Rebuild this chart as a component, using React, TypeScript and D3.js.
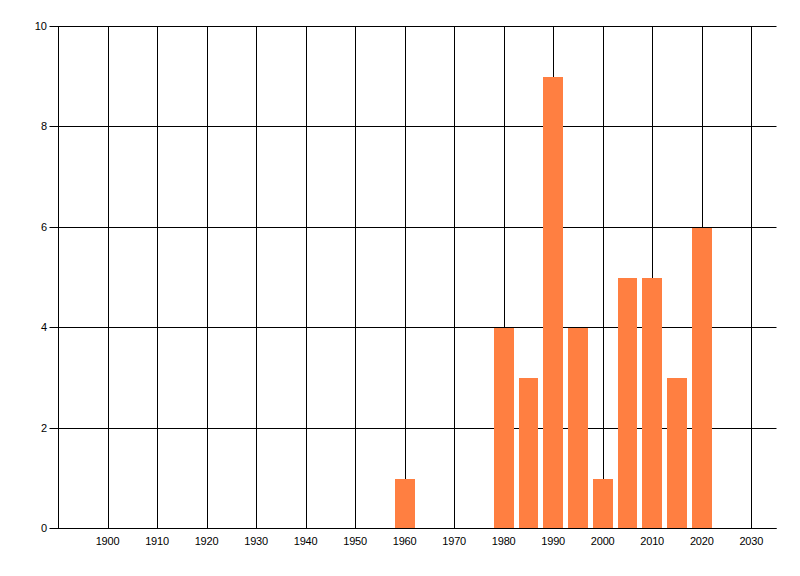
import { useEffect, useRef } from "react";
import * as d3 from "d3";

const years = [1960, 1980, 1985, 1990, 1995, 2000, 2005, 2010, 2015, 2020];
const counts = [1, 4, 3, 9, 4, 1, 5, 5, 3, 6];
const xTicks = [1900, 1910, 1920, 1930, 1940, 1950, 1960, 1970, 1980, 1990, 2000, 2010, 2020, 2030];
const yTicks = [0, 2, 4, 6, 8, 10];

export default function App() {
  const ref = useRef<SVGSVGElement>(null);

  useEffect(() => {
    if (!ref.current) return;
    const W = 800, H = 576;
    const ML = 58, MR = 24, MT = 26, MB = 48;
    const svg = d3.select(ref.current).attr("width", W).attr("height", H);
    svg.selectAll("*").remove();

    const x = d3.scaleLinear().domain([1890, 2035]).range([ML, W - MR]);
    const y = d3.scaleLinear().domain([0, 10]).range([H - MB, MT]);
    const px = (v: number) => Math.round(v) + 0.5;
    const font = "'Liberation Sans', Arial, sans-serif";

    // Grid
    const grid = svg.append("g").attr("stroke", "#000").attr("stroke-width", 1);
    xTicks.forEach(t => {
      grid.append("line")
        .attr("x1", px(x(t))).attr("x2", px(x(t)))
        .attr("y1", px(y(10))).attr("y2", px(y(0)));
    });
    yTicks.forEach(t => {
      grid.append("line")
        .attr("x1", px(x(1890)) - 9).attr("x2", px(x(2035)))
        .attr("y1", px(y(t))).attr("y2", px(y(t)));
    });

    // Bars
    svg.append("g").selectAll("rect")
      .data(years)
      .join("rect")
      .attr("x", d => Math.round(x(d - 2)))
      .attr("width", d => Math.round(x(d + 2)) - Math.round(x(d - 2)))
      .attr("y", (_, i) => Math.round(y(counts[i])) + 1)
      .attr("height", (_, i) => Math.round(y(0)) - Math.round(y(counts[i])))
      .attr("fill", "#ff7f41");

    // Axes
    svg.append("line")
      .attr("x1", px(x(1890))).attr("x2", px(x(1890)))
      .attr("y1", px(y(10))).attr("y2", px(y(0)))
      .attr("stroke", "#000");
    svg.append("line")
      .attr("x1", px(x(1890))).attr("x2", px(x(2035)))
      .attr("y1", px(y(0))).attr("y2", px(y(0)))
      .attr("stroke", "#000");

    // Labels
    yTicks.forEach(t => {
      svg.append("text")
        .attr("x", ML - 11).attr("y", y(t) + 4)
        .attr("text-anchor", "end").attr("font-size", 11)
        .attr("font-family", font).attr("fill", "#000")
        .text(t);
    });
    xTicks.forEach(t => {
      svg.append("text")
        .attr("x", x(t)).attr("y", y(0) + 17)
        .attr("text-anchor", "middle").attr("font-size", 11)
        .attr("letter-spacing", -0.2)
        .attr("font-family", font).attr("fill", "#000")
        .text(t);
    });
  }, []);

  return (
    <div style={{ position: "absolute", left: 0, top: 0, width: 800, height: 576, background: "#fff" }}>
      <svg ref={ref} style={{ display: "block" }} />
    </div>
  );
}
